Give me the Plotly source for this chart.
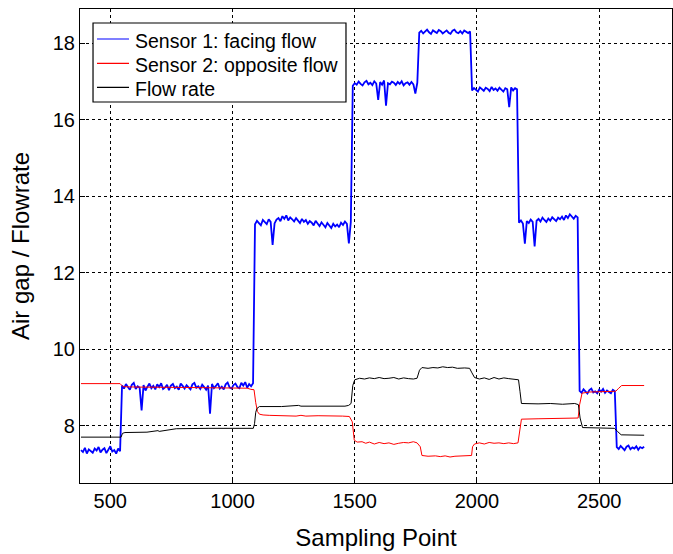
import plotly.graph_objects as go

# Sampling points of sensor 1 (every 8th sample)
sample_points = list(range(380, 2685, 8))

# Sensor 1 (facing flow) readings, grouped by flow-rate plateau
s1_plateau_1 = [7.36, 7.31, 7.42, 7.27, 7.38, 7.33, 7.29, 7.40, 7.35, 7.44, 7.30,
                7.37, 7.41, 7.28, 7.39, 7.46, 7.32, 7.36, 7.27, 7.40, 7.33]
s1_plateau_2 = [9.05, 8.97, 9.09, 9.01, 8.94, 9.07, 9.12, 8.96, 9.03, 8.99, 8.40,
                9.06, 8.92, 9.02, 9.10, 8.98, 9.04, 8.95, 9.08, 9.01, 9.11, 8.96,
                9.00, 9.07, 8.93, 9.05, 9.09, 8.98, 9.02, 8.94, 9.10, 9.04, 8.97,
                9.06, 9.00, 8.95, 9.08, 9.12, 8.99, 9.03, 8.96, 9.07, 9.01, 8.94,
                9.05, 8.31, 9.09, 8.98, 9.04, 9.11, 8.97, 9.02, 8.95, 9.08, 9.13,
                9.00, 8.97, 9.06, 9.10, 9.01, 8.98, 9.12, 9.05, 9.14, 8.99, 9.09,
                9.03, 9.11]
s1_plateau_3 = [13.27, 13.36, 13.30, 13.24, 13.38, 13.32, 13.27, 13.40, 13.33, 12.73,
                13.29, 13.39, 13.43, 13.35, 13.48, 13.41, 13.50, 13.37, 13.45, 13.40,
                13.34, 13.43, 13.36, 13.30, 13.41, 13.33, 13.38, 13.28, 13.35, 13.31,
                13.24, 13.36, 13.29, 13.22, 13.32, 13.25, 13.19, 13.30, 13.23, 13.17,
                13.28, 13.21, 13.26, 13.19, 13.31, 13.25, 13.34, 13.28, 12.77, 13.33]
s1_plateau_4 = [16.89, 16.96, 16.92, 17.00, 16.94, 16.90, 16.98, 17.02, 16.93, 16.97,
                16.91, 17.01, 16.95, 16.52, 16.99, 16.92, 17.03, 16.37, 16.96, 16.93,
                17.00, 16.97, 16.91, 16.99, 16.94, 17.01, 16.90, 16.96, 16.98, 16.92,
                16.99, 16.93, 16.69, 16.97]
s1_plateau_5 = [18.28, 18.33, 18.26, 18.31, 18.36, 18.29, 18.25, 18.34, 18.30, 18.27,
                18.35, 18.32, 18.26, 18.30, 18.34, 18.28, 18.25, 18.33, 18.36, 18.29,
                18.27, 18.32, 18.26, 18.34, 18.30, 18.27, 18.31]
s1_plateau_6 = [16.77, 16.83, 16.79, 16.74, 16.85, 16.80, 16.76, 16.84, 16.81, 16.75,
                16.86, 16.78, 16.82, 16.76, 16.84, 16.79, 16.74, 16.83, 16.80, 16.33,
                16.85, 16.77, 16.83, 16.80]
s1_plateau_7 = [13.31, 13.37, 13.29, 12.76, 13.35, 13.30, 13.39, 13.33, 12.69, 13.36,
                13.41, 13.34, 13.44, 13.38, 13.33, 13.42, 13.36, 13.45, 13.39, 13.35,
                13.44, 13.40, 13.47, 13.38, 13.50, 13.43, 13.53, 13.46, 13.41, 13.49,
                13.45]
s1_plateau_8 = [8.91, 8.86, 8.95, 8.88, 8.84, 8.93, 8.97, 8.87, 8.90, 8.85, 8.94,
                8.89, 8.96, 8.86, 8.92, 8.88, 8.85, 8.94, 8.90]
s1_plateau_9 = [7.44, 7.39, 7.47, 7.41, 7.36, 7.45, 7.48, 7.38, 7.43, 7.40, 7.46,
                7.37, 7.44, 7.41, 7.45]

sensor1 = (s1_plateau_1 + s1_plateau_2 + s1_plateau_3 + s1_plateau_4 + s1_plateau_5
           + s1_plateau_6 + s1_plateau_7 + s1_plateau_8 + s1_plateau_9)

# Sensor 2 (opposite flow)
sensor2_x = [380, 540, 552, 600, 800, 1000, 1060, 1075, 1088, 1095, 1102, 1110, 1125,
             1150, 1200, 1230, 1260, 1280, 1300, 1350, 1400, 1450, 1478, 1490, 1498,
             1510, 1530, 1545, 1560, 1580, 1600, 1620, 1640, 1660, 1680, 1700, 1720,
             1740, 1755, 1768, 1775, 1800, 1830, 1850, 1870, 1890, 1910, 1930, 1960,
             1978, 1982, 1990, 2010, 2030, 2050, 2070, 2090, 2110, 2130, 2150, 2168,
             2175, 2182, 2250, 2330, 2400, 2414, 2420, 2430, 2460, 2500, 2540, 2568,
             2580, 2592, 2684]
sensor2_y = [9.10, 9.10, 9.02, 9.01, 9.00, 8.99, 8.98, 8.95, 8.94, 8.60, 8.37, 8.30, 8.28,
             8.27, 8.26, 8.27, 8.25, 8.27, 8.25, 8.26, 8.26, 8.25, 8.24, 8.10, 7.62,
             7.57, 7.58, 7.54, 7.57, 7.52, 7.56, 7.53, 7.55, 7.51, 7.54, 7.56, 7.55,
             7.58, 7.55, 7.45, 7.22, 7.20, 7.21, 7.19, 7.21, 7.18, 7.20, 7.21, 7.21,
             7.22, 7.45, 7.52, 7.55, 7.52, 7.56, 7.54, 7.55, 7.53, 7.55, 7.53, 7.55,
             7.90, 8.17, 8.18, 8.19, 8.18, 8.20, 8.55, 8.85, 8.88, 8.89, 8.90, 8.90,
             8.98, 9.05, 9.05]

# Flow rate
flow_x = [380, 544, 550, 560, 650, 680, 695, 700, 710, 740, 770, 900, 1000, 1085,
          1090, 1095, 1100, 1110, 1200, 1260, 1270, 1280, 1350, 1360, 1370, 1460,
          1475, 1485, 1492, 1500, 1520, 1540, 1560, 1580, 1600, 1620, 1640, 1660,
          1680, 1700, 1720, 1740, 1755, 1765, 1775, 1800, 1820, 1840, 1860, 1880,
          1900, 1920, 1950, 1970, 1978, 1990, 2010, 2030, 2050, 2070, 2090, 2110,
          2130, 2150, 2170, 2176, 2182, 2250, 2300, 2350, 2400, 2415, 2422, 2432,
          2500, 2562, 2575, 2590, 2684]
flow_y = [7.70, 7.70, 7.80, 7.82, 7.83, 7.85, 7.87, 7.85, 7.86, 7.88, 7.92, 7.93, 7.93,
          7.93, 8.05, 8.35, 8.45, 8.50, 8.50, 8.51, 8.53, 8.51, 8.51, 8.52, 8.51, 8.51,
          8.53, 8.58, 9.05, 9.20, 9.24, 9.22, 9.25, 9.23, 9.26, 9.23, 9.24, 9.26,
          9.22, 9.25, 9.23, 9.22, 9.24, 9.45, 9.52, 9.50, 9.52, 9.51, 9.54, 9.52,
          9.53, 9.50, 9.51, 9.50, 9.40, 9.26, 9.22, 9.25, 9.21, 9.26, 9.22, 9.25,
          9.23, 9.21, 9.20, 8.90, 8.58, 8.57, 8.58, 8.56, 8.58, 8.55, 8.20, 7.95,
          7.93, 7.93, 7.85, 7.76, 7.75]

series_names = ["Sensor 1: facing flow", "Sensor 2: opposite flow", "Flow rate"]
series_colors = ["#0000ff", "#ff0000", "#000000"]

x_ticks = [500, 1000, 1500, 2000, 2500]
y_ticks = [8, 10, 12, 14, 16, 18]

font_family = "Liberation Sans, Arial, sans-serif"

fig = go.Figure()
fig.add_trace(go.Scatter(x=sample_points, y=sensor1, mode="lines",
                         name=series_names[0], showlegend=False,
                         line=dict(color=series_colors[0], width=1.8)))
fig.add_trace(go.Scatter(x=sensor2_x, y=sensor2_y, mode="lines",
                         name=series_names[1], showlegend=False,
                         line=dict(color=series_colors[1], width=1)))
fig.add_trace(go.Scatter(x=flow_x, y=flow_y, mode="lines",
                         name=series_names[2], showlegend=False,
                         line=dict(color=series_colors[2], width=1)))

axis_common = dict(
    showgrid=True, gridcolor="#000000", gridwidth=1, griddash="3px,3px",
    zeroline=False, showline=True, linecolor="#000000", linewidth=1.2,
    mirror=True, ticks="inside", ticklen=5, tickcolor="#000000",
    tickfont=dict(family=font_family, size=20, color="#000000"),
)

fig.update_xaxes(range=[376, 2798], tickvals=x_ticks,
                 title=dict(text="Sampling Point", standoff=18,
                            font=dict(family=font_family, size=24, color="#000000")),
                 **axis_common)
fig.update_yaxes(range=[6.5, 18.9], tickvals=y_ticks,
                 title=dict(text="Air gap / Flowrate", standoff=16,
                            font=dict(family=font_family, size=24, color="#000000")),
                 **axis_common)

# Legend box drawn in the upper-left corner of the axes
legend_left, legend_right = 0.022, 0.4493
legend_top, legend_bottom = 0.9705, 0.8038
row_y = [0.9367, 0.8854, 0.8348]
sample_x0, sample_x1, text_x = 0.0287, 0.0828, 0.0895
text_drop = 0.004

shapes = [dict(type="rect", xref="paper", yref="paper",
               x0=legend_left, x1=legend_right, y0=legend_bottom, y1=legend_top,
               fillcolor="#ffffff", line=dict(color="#000000", width=1.2), layer="above")]
annotations = []
for name, color, y in zip(series_names, series_colors, row_y):
    shapes.append(dict(type="line", xref="paper", yref="paper",
                       x0=sample_x0, x1=sample_x1, y0=y, y1=y,
                       line=dict(color=color, width=1.2), layer="above"))
    annotations.append(dict(text=name, xref="paper", yref="paper", x=text_x,
                            y=y - text_drop, xanchor="left", yanchor="middle",
                            showarrow=False,
                            font=dict(family=font_family, size=19.5, color="#000000")))

fig.update_layout(
    width=673, height=554,
    margin=dict(l=80, r=1, t=9, b=71),
    paper_bgcolor="#ffffff", plot_bgcolor="#ffffff",
    font=dict(family=font_family, color="#000000"),
    shapes=shapes, annotations=annotations,
    showlegend=False,
)

fig.write_html("out.html")
